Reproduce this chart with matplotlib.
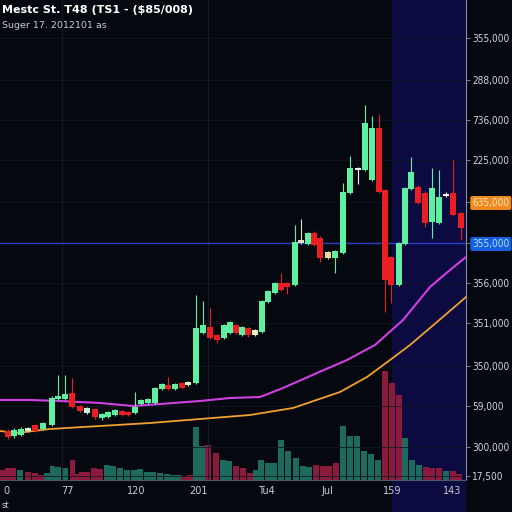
import matplotlib
matplotlib.use("Agg")
import matplotlib.pyplot as plt
from matplotlib.patches import Rectangle
from matplotlib.transforms import blended_transform_factory

# candles: time position, open, close, high, low
cx = [8, 14, 21, 28, 35, 43, 52, 58, 65, 72, 80, 87, 95, 102, 108, 115, 122, 128, 135, 141,
      148, 155, 162, 168, 175, 182, 188, 196, 203, 210, 217, 224, 230, 236, 242, 248, 255, 262, 268, 275,
      281, 287, 295, 301, 308, 314, 320, 328, 335, 343, 350, 358, 365, 372, 379, 385, 391, 399, 405, 411,
      418, 425, 432, 439, 446, 453, 461]
opens = [51, 46, 47, 51, 57, 53, 57, 83, 83, 89, 76, 69, 73, 64, 65, 67, 71, 70, 69, 78,
         79, 79, 93, 97, 93, 99, 97, 99, 149, 155, 147, 144, 149, 157, 147, 154, 147, 150, 180, 189,
         199, 199, 197, 242, 238, 249, 244, 224, 224, 229, 289, 312, 312, 302, 354, 292, 225, 197, 238, 293,
         295, 289, 260, 259, 286, 289, 269]
closes = [45, 52, 53, 54, 51, 59, 84, 86, 88, 75, 71, 74, 65, 68, 70, 72, 67, 67, 75, 82,
          83, 94, 98, 93, 98, 94, 100, 154, 157, 144, 142, 157, 160, 149, 155, 147, 152, 181, 191, 199,
          192, 195, 240, 239, 249, 237, 224, 230, 231, 290, 314, 314, 359, 354, 290, 202, 197, 239, 294, 310,
          279, 259, 294, 285, 288, 267, 254]
highs = [53, 54, 55, 55, 58, 60, 86, 107, 107, 104, 77, 75, 74, 69, 71, 73, 72, 71, 90, 83,
         84, 95, 99, 105, 99, 100, 101, 187, 181, 174, 148, 158, 161, 158, 156, 155, 153, 182, 192, 200,
         209, 200, 257, 263, 250, 251, 246, 231, 232, 299, 326, 315, 377, 366, 368, 293, 226, 240, 295, 325,
         297, 291, 314, 312, 290, 322, 270]
lows = [43, 44, 46, 50, 50, 52, 56, 82, 82, 74, 70, 68, 63, 62, 64, 66, 66, 66, 68, 77,
        78, 78, 92, 92, 92, 93, 96, 98, 148, 143, 139, 143, 148, 148, 146, 145, 146, 149, 179, 188,
        191, 188, 196, 238, 237, 236, 220, 223, 209, 228, 288, 298, 311, 301, 289, 170, 179, 196, 237, 292,
        278, 255, 244, 258, 285, 266, 242]
pale_idx = {3: "#c8f5d0", 11: "#c8f5d0", 26: "#d8f5c8", 36: "#e8f0c0", 43: "#f0d8c8",
            47: "#f0d890", 51: "#f4f4f4", 64: "#f4f4f4"}

# moving averages
ma1_x = [0, 30, 60, 100, 133, 160, 200, 230, 260, 283, 317, 347, 375, 403, 430, 450, 466]
ma1_y = [82, 82, 81, 79, 76, 78, 81, 84, 85, 94, 109, 122, 137, 162, 195, 212, 225]
ma2_x = [0, 17, 50, 100, 150, 200, 250, 293, 340, 367, 390, 410, 437, 466]
ma2_y = [51, 49, 53, 56, 59, 63, 67, 74, 90, 105, 122, 137, 160, 185]

# volume
vol_x = [2.5, 7.5, 13, 20, 28, 35, 41, 47, 52.5, 58, 65, 72.5, 78, 82, 87, 94, 100, 107, 113, 120,
         127, 134, 140, 147, 153, 160, 167, 173, 179, 184, 190, 196, 202, 208, 216, 223, 229, 236, 243, 250,
         256, 261, 268, 274, 281, 288, 296, 303, 309, 316, 323, 329, 336, 343, 350, 357, 364, 371, 378, 385,
         392, 399, 405, 412, 419, 426, 432, 439, 446, 453, 459]
vol_h = [10, 12, 12, 10, 8, 7, 5, 7, 14, 13, 12, 20, 6, 8, 8, 12, 11, 15, 14, 12,
         10, 10, 11, 8, 8, 7, 6, 5, 5, 4, 5, 53, 34, 35, 27, 20, 19, 14, 12, 7,
         10, 20, 17, 17, 40, 29, 22, 14, 13, 15, 14, 14, 17, 54, 44, 44, 29, 26, 20, 109,
         97, 85, 42, 20, 15, 13, 12, 12, 9, 9, 6]
vol_up = "mmmtmmmttttmmmmmmttttttttttttmmttmmttmmmt" + "ttttttttmmmmttttttmmmtttmmmtmmm"

ytick_pos = [444, 402, 362, 322, 280, 239, 199, 159, 116, 76, 35, 6]
ytick_lab = ["355,000", "288,000", "736,000", "225,000", "635,000", "355,000",
             "356,000", "351,000", "350,000", "59,000", "300,000", "17,500"]
xtick_pos = [6, 67, 136, 198, 266, 327, 392, 452]
xtick_lab = ["0", "77", "120", "201", "Tu4", "Jul", "159", "143"]
last_price = 239

GREEN = "#5ef0a0"
RED = "#e81e22"
BG = "#05090f"
NAVY = "#0b0b42"

plt.rcParams['font.family'] = ['DejaVu Sans']
fig = plt.figure(figsize=(5.12, 5.12), dpi=100, facecolor=BG)
rect = [0, 32 / 512, 466 / 512, 480 / 512]
axv = fig.add_axes(rect)
ax = fig.add_axes(rect, sharex=axv)
for a in (axv, ax):
    a.set_facecolor("none")

# navy zone on the right, down to the bottom of the figure
tr = blended_transform_factory(ax.transData, fig.transFigure)
fig.patches.append(Rectangle((392, 0), 74, 1, transform=tr, facecolor=NAVY,
                             edgecolor="none", zorder=-5))

# volume
vcol = ["#1d6b5c" if c == "t" else "#8c1a3c" for c in vol_up]
axv.bar(vol_x, vol_h, width=5.6, color=vcol, linewidth=0)
axv.set_ylim(0, 480)
axv.axis("off")

# grid
for y in ytick_pos:
    ax.axhline(y, color="#111824", lw=0.6, zorder=0)
for x in [62, 208]:
    ax.axvline(x, color="#161e2a", lw=0.6, zorder=0)

ax.axhline(last_price, color="#2a40c8", lw=1.0, zorder=1)
ax.plot(ma1_x, ma1_y, color="#d040e0", lw=1.5, zorder=2)
ax.plot(ma2_x, ma2_y, color="#f0a030", lw=1.3, zorder=2)

for i in range(len(cx)):
    col = GREEN if closes[i] >= opens[i] else RED
    col = pale_idx.get(i, col)
    ax.vlines(cx[i], lows[i], highs[i], color=col, lw=0.8, zorder=3)
    lo = min(opens[i], closes[i])
    ax.bar(cx[i], max(abs(closes[i] - opens[i]), 2), bottom=lo, width=5.6,
           color=col, linewidth=0, zorder=4)

ax.set_xlim(0, 466)
ax.set_ylim(2, 482)

ax.yaxis.tick_right()
ax.set_yticks(ytick_pos)
ax.set_yticklabels(ytick_lab, fontsize=7.2, fontstretch="condensed", color="#d0d4dc")
ax.tick_params(axis="y", length=3, width=0.6, color="#8890a0", pad=1.5)
labs = ax.get_yticklabels()
labs[4].set_bbox(dict(boxstyle="round,pad=0.2", facecolor="#f08a20", edgecolor="none"))
labs[4].set_color("#ffe6b0")
labs[5].set_bbox(dict(boxstyle="round,pad=0.2", facecolor="#1560e0", edgecolor="none"))
labs[5].set_color("#b8dcff")

ax.set_xticks(xtick_pos)
ax.set_xticklabels(xtick_lab, fontsize=7, color="#c8ccd4")
ax.tick_params(axis="x", length=0, pad=4)

for s in ["top", "left"]:
    ax.spines[s].set_visible(False)
ax.spines["right"].set_color("#8890a0")
ax.spines["right"].set_linewidth(0.8)
ax.spines["bottom"].set_color("#505868")
ax.spines["bottom"].set_linewidth(0.8)

fig.text(2 / 512, 1 - 10 / 512, "Mestc St. T48 (TS1 - ($85/008)", fontsize=8,
         fontweight="bold", color="white", va="center")
fig.text(2 / 512, 1 - 25 / 512, "Suger 17. 2012101 as", fontsize=6.8,
         color="#c8ccd4", va="center")
fig.text(2 / 512, 6 / 512, "st", fontsize=6, color="#c8ccd4", va="center")

fig.savefig("out.png", dpi=100, facecolor=BG)
